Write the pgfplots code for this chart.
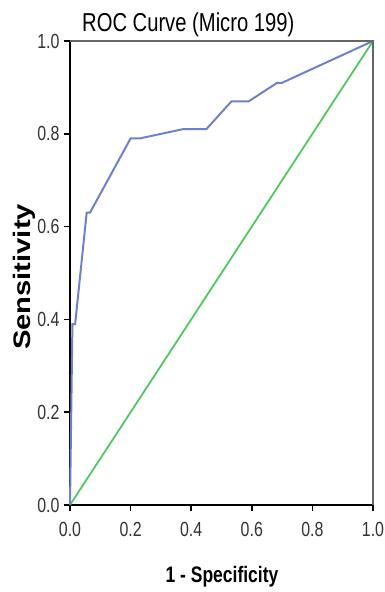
\documentclass[border=0pt]{standalone}
\usepackage{fontspec}
\setmainfont[FakeStretch=0.78]{Liberation Sans}
\newfontfamily\widefont{Liberation Sans}
\usepackage{pgfplots}
\pgfplotsset{compat=1.18}
\definecolor{roc}{RGB}{110,128,200}
\definecolor{ref}{RGB}{80,200,95}
\begin{document}
\begin{tikzpicture}
\useasboundingbox (0bp,0bp) rectangle (385bp,592bp);
\begin{axis}[
  at={(70bp,87bp)}, anchor=origin,
  scale only axis, width=303bp, height=464bp,
  xmin=0, xmax=1, ymin=0, ymax=1,
  xtick={0,0.2,...,1.0}, ytick={0,0.2,...,1.0},
  xtick pos=left, ytick pos=left,
  tick align=outside,
  major tick length=6bp,
  every tick/.style={black, line width=1.8pt},
  axis line style={black, line width=1.5pt},
  /pgf/number format/assume math mode=true,
  /pgf/number format/fixed, /pgf/number format/fixed zerofill,
  /pgf/number format/precision=1,
  tick label style={font=\fontsize{20.5}{20.5}\selectfont, text=black!80},
  xticklabel style={yshift=-8bp},
  yticklabel style={xshift=-1bp},
  clip=false,
]
\addplot[ref, line width=1.8pt] coordinates {(0,0) (1,1)};
\addplot[roc, line width=2pt] coordinates {
(0,0) (0.008,0.39) (0.017,0.39) (0.055,0.63) (0.066,0.63) (0.20,0.79) (0.23,0.79)
(0.373,0.81) (0.45,0.81) (0.533,0.87) (0.59,0.87) (0.684,0.91) (0.70,0.91)
(0.78,0.934) (1,1)};
\draw[gray!80!black, line width=2.8pt] (axis cs:0,1) -- (axis cs:1,1) -- (axis cs:1,0);
\end{axis}
\node[anchor=base west, inner sep=0] at (82bp,560bp) {\fontsize{26}{26}\selectfont ROC Curve (Micro 199)};
\node[anchor=base, inner sep=0] at (222bp,10bp) {\fontsize{22.5}{22.5}\selectfont\bfseries 1 - Specificity};
\node[rotate=90, inner sep=0] at (24bp,315bp) {\scalebox{1.22}[1]{\widefont\fontsize{24}{24}\selectfont\bfseries Sensitivity}};
\end{tikzpicture}
\end{document}
